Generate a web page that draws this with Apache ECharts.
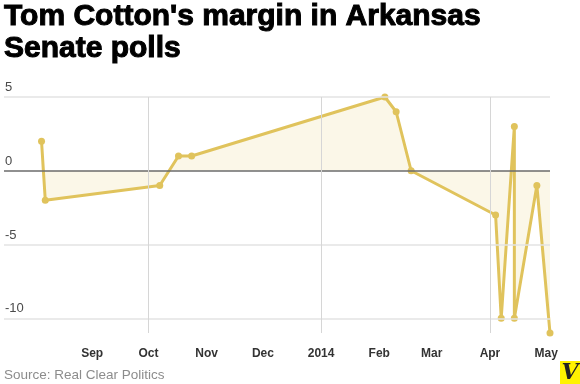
<!DOCTYPE html>
<html><head><meta charset="utf-8">
<script src="https://cdn.jsdelivr.net/npm/echarts@6/dist/echarts.min.js"></script>
<style>html,body{margin:0;padding:0;background:#fff}#c{width:580px;height:384px}</style>
</head><body><div id="c"></div>
<script>
const titleText = "Tom Cotton's margin in Arkansas\nSenate polls";
const sourceText = "Source: Real Clear Politics";
const pollDates = ['2013-08-05','2013-08-07','2013-10-07','2013-10-17','2013-10-24','2014-02-04','2014-02-10','2014-02-18','2014-04-04','2014-04-07','2014-04-14','2014-04-14','2014-04-26','2014-05-03'];
const margins = [2, -2, -1, 1, 1, 5, 4, 0, -3, -10, 3, -10, -1, -11];
const monthTicks = ['2013-09-01','2013-10-01','2013-11-01','2013-12-01','2014-01-01','2014-02-01','2014-03-01','2014-04-01','2014-05-01'];
const monthLabels = ['Sep','Oct','Nov','Dec','2014','Feb','Mar','Apr','May'];
const yTicks = [5, 0, -5, -10];
const quarterLines = ['2013-10-01','2014-01-01','2014-04-01'];
const xRange = ['2013-07-16','2014-05-03'];
const yRange = [-11, 5];

function ts(s){ const p = s.split('-').map(Number); return Date.UTC(p[0], p[1]-1, p[2]); }
const tickMs = monthTicks.map(ts);

const chart = echarts.init(document.getElementById('c'), null, {renderer:'canvas'});
const gold = '#e0c35c';
chart.setOption({
  animation: false,
  backgroundColor: '#fff',
  title: {
    text: titleText, left: 4, top: 1, padding: 0,
    textStyle: {fontFamily: "'Liberation Sans',Arial,sans-serif", fontWeight: 'bold', fontSize: 30, lineHeight: 32, color: '#000', textBorderColor: '#000', textBorderWidth: 1}
  },
  grid: {left: 4, right: 30, top: 97, bottom: 51, containLabel: false, outerBoundsMode: 'none'},
  xAxis: {
    type: 'value', min: ts(xRange[0]), max: ts(xRange[1]),
    axisLine: {show: false}, axisTick: {show: false}, splitLine: {show: false},
    axisLabel: {
      customValues: tickMs,
      formatter: function(v){ const i = tickMs.indexOf(v); return i >= 0 ? monthLabels[i] : ''; },
      color: '#333', fontWeight: 'bold', fontSize: 12, margin: 15, fontFamily: "'Liberation Sans',sans-serif",
      hideOverlap: false, showMinLabel: true, showMaxLabel: true
    }
  },
  yAxis: {
    type: 'value', min: yRange[0], max: yRange[1],
    axisLine: {show: false}, axisTick: {show: false}, splitLine: {show: false}, axisLabel: {show: false}
  },
  graphic: [
    {type: 'text', left: 4, top: 368, style: {text: sourceText, fill: '#8c8c8c', font: "13.5px 'Liberation Sans', sans-serif"}},
    {type: 'rect', shape: {x: 560, y: 361, width: 20, height: 23}, style: {fill: '#fff200'}},
    {type: 'text', x: 570, y: 373, style: {text: 'V', fill: '#222', font: "italic bold 22px 'DejaVu Serif', serif", align: 'center', verticalAlign: 'middle'}}
  ],
  series: [{
    type: 'line',
    data: pollDates.map((d, i) => [ts(d), margins[i]]),
    lineStyle: {color: gold, width: 3},
    itemStyle: {color: gold},
    symbol: 'circle', symbolSize: 7, showSymbol: true,
    areaStyle: {color: 'rgba(225,195,90,0.2)'},
    markLine: {
      silent: true, symbol: ['none','none'], animation: false,
      data: yTicks.map(v => ({
        yAxis: v,
        lineStyle: v === 0 ? {color: '#6b6b6b', width: 1.5, type: 'solid'} : {color: '#e3e3e3', width: 1.5, type: 'solid'},
        label: {show: true, position: 'insideStartTop', formatter: String(v), color: '#4a4a4a', fontSize: 13, fontFamily: "'Liberation Sans',sans-serif", distance: [1, 3]}
      })).concat(quarterLines.map(d => ({
        xAxis: ts(d),
        lineStyle: {color: '#d6d6d6', width: 1, type: 'solid'},
        label: {show: false}
      })))
    }
  }]
});
</script></body></html>
